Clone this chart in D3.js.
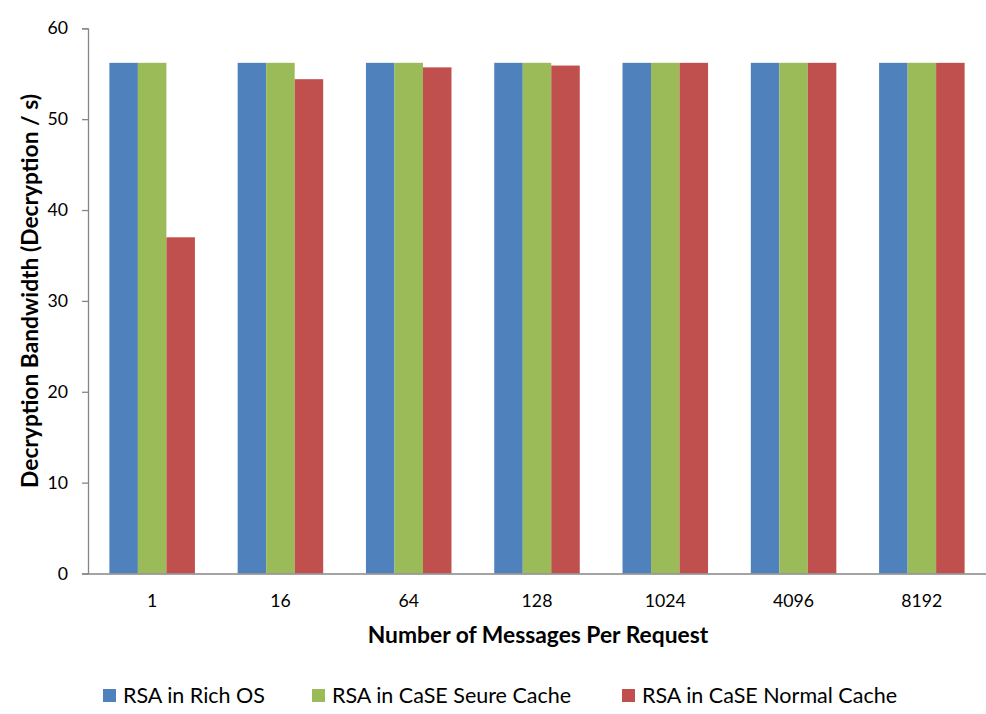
<!DOCTYPE html>
<html>
<head>
<meta charset="utf-8">
<script src="https://cdn.jsdelivr.net/npm/d3@7"></script>
<style>
  html, body { margin: 0; padding: 0; background: #fff; }
  text { font-family: Lato, "Open Sans", sans-serif; fill: #000; }
</style>
</head>
<body>
<svg id="chart" width="986" height="714"></svg>
<script>
// Decryption bandwidth per batch size
const categories = ["1", "16", "64", "128", "1024", "4096", "8192"];
const seriesNames = ["RSA in Rich OS", "RSA in CaSE Seure Cache", "RSA in CaSE Normal Cache"];
const richOS = [56.2, 56.2, 56.2, 56.2, 56.2, 56.2, 56.2];
const secureCache = [56.2, 56.2, 56.2, 56.2, 56.2, 56.2, 56.2];
const normalCache = [37.0, 54.4, 55.7, 55.9, 56.2, 56.2, 56.2];
const yTicks = [0, 10, 20, 30, 40, 50, 60];
const colors = ["#4F81BD", "#9BBB59", "#C0504D"];

const series = [richOS, secureCache, normalCache];
const svg = d3.select("#chart");
const plotLeft = 88, plotRight = 986, plotTop = 28.3, plotBottom = 573.5;

const x = d3.scaleBand().domain(categories).range([plotLeft, plotRight])
  .paddingInner(1.5 / 4.5).paddingOuter(0.75 / 4.5);
const x1 = d3.scaleBand().domain(d3.range(series.length)).range([0, x.bandwidth()]);
const y = d3.scaleLinear().domain([0, 60]).range([plotBottom, plotTop]);

// bars
const groups = svg.append("g").selectAll("g").data(categories).join("g")
  .attr("transform", d => `translate(${x(d)},0)`);
groups.selectAll("rect")
  .data((d, i) => series.map((s, k) => ({ k, v: s[i] })))
  .join("rect")
  .attr("x", d => x1(d.k))
  .attr("width", x1.bandwidth())
  .attr("y", d => y(d.v))
  .attr("height", d => y(0) - y(d.v))
  .attr("fill", d => colors[d.k]);

// y axis
const yAxis = svg.append("g").attr("transform", `translate(${plotLeft},0)`)
  .call(d3.axisLeft(y).tickValues(yTicks).tickSize(6).tickPadding(14).tickFormat(d3.format("d")));
yAxis.select(".domain").attr("stroke", "#868686").attr("stroke-width", 1.3);
yAxis.selectAll(".tick line").attr("stroke", "#868686").attr("stroke-width", 1.3);
yAxis.selectAll(".tick text").attr("font-size", 17.7).attr("font-family", "Lato, sans-serif").attr("fill", "#000");

// x axis
const xAxis = svg.append("g").attr("transform", `translate(0,${plotBottom})`)
  .call(d3.axisBottom(x).tickSize(0).tickPadding(21));
xAxis.select(".domain").attr("stroke", "#868686").attr("stroke-width", 1.5);
xAxis.selectAll(".tick text").attr("font-size", 17.7).attr("font-family", "Lato, sans-serif").attr("fill", "#000");

// axis titles
svg.append("text")
  .attr("x", 538).attr("y", 642.5)
  .attr("text-anchor", "middle").attr("font-size", 22.8).attr("font-weight", "bold")
  .text("Number of Messages Per Request");
svg.append("text")
  .attr("transform", `translate(38,291) rotate(-90)`)
  .attr("text-anchor", "middle").attr("font-size", 22.8).attr("font-weight", "bold")
  .text("Decryption Bandwidth (Decryption / s)");

// legend
const legendX = [103, 312, 622];
const legend = svg.append("g").selectAll("g").data(seriesNames).join("g")
  .attr("transform", (d, i) => `translate(${legendX[i]},689)`);
legend.append("rect").attr("width", 13).attr("height", 13).attr("fill", (d, i) => colors[i]);
legend.append("text").attr("x", 20).attr("y", 13.5).attr("font-size", 21.5).text(d => d);
</script>
</body>
</html>
